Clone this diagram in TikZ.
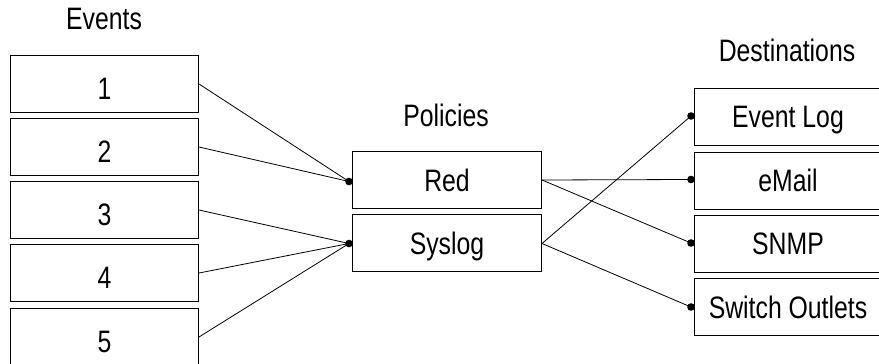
\documentclass[tikz,border=0pt]{standalone}
\usepackage{fontspec}
\setmainfont{Liberation Sans}[FakeStretch=0.8]
\begin{document}
\begin{tikzpicture}[x=1pt,y=-1pt,
  box/.style={draw=black,line width=1pt,rectangle,anchor=north west,
    minimum width=188pt,minimum height=57pt,inner sep=0pt},
  evbox/.style={box},
  polbox/.style={box,minimum width=189pt},
  lbl/.style={font=\fontsize{31}{33}\selectfont,inner sep=0pt},
  wire/.style={line width=0.8pt},
  dot/.style={fill=black}]
\useasboundingbox (0,0) rectangle (879,364);
\begin{scope}
\clip (0,0) rectangle (879,364);

% column headings
\node[lbl,anchor=base] (hEv) at (104,30) {Events};
\node[lbl,anchor=base] (hPol) at (446,126) {Policies};
\node[lbl,anchor=base] (hDst) at (787,61) {Destinations};

% events
\foreach \i/\t in {1/55,2/118,3/181,4/244,5/308}{
  \node[evbox] (e\i) at (10,\t) {};
  \node[lbl,anchor=base] (te\i) at ([yshift=-15pt]e\i.center) {\i};
}

% policies
\node[polbox] (red) at (352,151) {};
\node[lbl,anchor=base] (tred) at ([yshift=-11.5pt]red.center) {Red};
\node[polbox] (syslog) at (352,214) {};
\node[lbl,anchor=base] (tsys) at ([yshift=-11.5pt]syslog.center) {Syslog};

% destinations
\node[box] (d1) at (694,88) {};
\node[box] (d2) at (694,152) {};
\node[box] (d3) at (694,215) {};
\node[box] (d4) at (694,278) {};
\node[lbl,anchor=base] (td1) at (788,127) {Event Log};
\node[lbl,anchor=base] (td2) at (788,191) {eMail};
\node[lbl,anchor=base] (td3) at (788,254) {SNMP};
\node[lbl,anchor=base] (td4) at (788,318) {Switch Outlets};

% attachment points
\coordinate (redIn) at ([xshift=-3pt,yshift=-1.5pt]red.west);
\coordinate (sysIn) at ([xshift=-3pt,yshift=-0.5pt]syslog.west);
\coordinate (redOut) at (red.east);
\coordinate (sysOut) at ([yshift=-0.5pt]syslog.east);
\coordinate (d1In) at (691,116);
\coordinate (d2In) at (691,179.5);
\coordinate (d3In) at (691,243);
\coordinate (d4In) at (691,307);

% connectors
\draw[wire] (e1.east) -- (redIn);
\draw[wire] (e2.east) -- (redIn);
\draw[wire] (e3.east) -- (sysIn);
\draw[wire] (e4.east) -- (sysIn);
\draw[wire] (e5.east) -- (sysIn);
\draw[wire] (redOut) -- (d2In);
\draw[wire] (redOut) -- (d3In);
\draw[wire] (sysOut) -- (d1In);
\draw[wire] (sysOut) -- (d4In);

% junction dots
\foreach \c in {redIn,sysIn,d1In,d2In,d3In,d4In}
  \fill[dot] (\c) circle (3.8pt);
\end{scope}
\end{tikzpicture}
\end{document}
